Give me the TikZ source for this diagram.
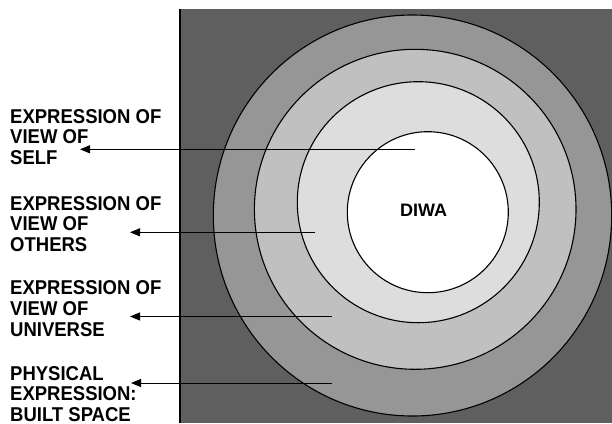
\documentclass[tikz,border=0pt]{standalone}
\usepackage{fontspec}
\setmainfont{Liberation Sans}
\newfontfamily\lblfont{Liberation Sans}[FakeStretch=0.925]
\usetikzlibrary{arrows.meta,shapes.geometric}
\definecolor{bgdark}{HTML}{5F5F5F}
\definecolor{ringA}{HTML}{969696}
\definecolor{ringB}{HTML}{C0C0C0}
\definecolor{ringC}{HTML}{DDDDDD}
\tikzset{
  ring/.style={draw=black,line width=1.1pt,ellipse,inner sep=0pt},
  lbl/.style={anchor=north west,inner sep=0pt,align=left,font=\lblfont\fontsize{20}{20.6}\selectfont\bfseries},
  pointer/.style={draw=black,line width=1pt,-{Triangle[length=10pt,width=8pt]}}
}
\begin{document}
\begin{tikzpicture}[x=1pt,y=-1pt]
\useasboundingbox (0,0) rectangle (612,423);
\fill[bgdark] (180,9) rectangle (612,423);
\draw[line width=1.2pt] (180,9) -- (180,423);
\node[ring,fill=ringA,minimum width=398.4pt,minimum height=401pt] (outer) at (412.5,215.5) {};
\node[ring,fill=ringB,minimum width=321.6pt,minimum height=320pt] (second) at (415.2,209.3) {};
\node[ring,fill=ringC,minimum width=242pt,minimum height=241pt] (third) at (418.3,202.2) {};
\node[ring,fill=white,minimum width=161pt,minimum height=161pt] (inner) at (427.8,212.2) {};
\node[font=\fontsize{18}{21}\selectfont\bfseries,inner sep=0pt] (diwa) at (423.5,210.5) {DIWA};

\node[lbl] (self) at (10,109) {EXPRESSION OF\\VIEW OF\\SELF};
\node[lbl] (others) at (10,196) {EXPRESSION OF\\VIEW OF\\OTHERS};
\node[lbl] (universe) at (10,280.7) {EXPRESSION OF\\VIEW OF\\UNIVERSE};
\node[lbl] (physical) at (10,366) {PHYSICAL\\EXPRESSION:\\BUILT SPACE};

\coordinate (s1) at (415,149.3);
\coordinate (t1) at (80,149.3);
\coordinate (s2) at (315,232.3);
\coordinate (t2) at (130,232.3);
\coordinate (s3) at (331.7,316.5);
\coordinate (t3) at (130,316.5);
\coordinate (s4) at (331.7,383);
\coordinate (t4) at (131,383);
\draw[pointer] (s1) -- (t1);
\draw[pointer] (s2) -- (t2);
\draw[pointer] (s3) -- (t3);
\draw[pointer] (s4) -- (t4);
\end{tikzpicture}
\end{document}
